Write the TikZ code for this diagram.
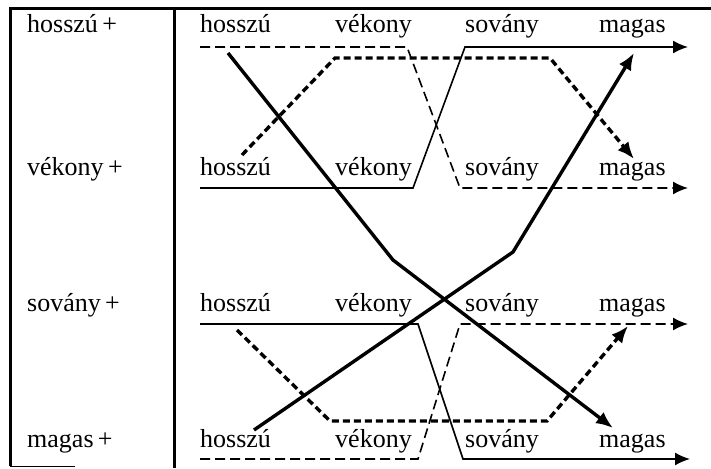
\documentclass[tikz,border=0pt]{standalone}
\usepackage{fontspec}
\setmainfont{Liberation Serif}
\usetikzlibrary{arrows.meta}

\begin{document}
\begin{tikzpicture}[x=1pt,y=-1pt,
  lbl/.style={anchor=base west,inner sep=0pt,font=\fontsize{26}{30}\selectfont},
  frame/.style={line width=3pt},
  rowline/.style={line width=1.6pt,-{Latex[length=15pt,width=13pt]}},
  rowdash/.style={rowline,dash pattern=on 10pt off 5pt},
  pathline/.style={line width=3.4pt,-{Latex[length=17pt,width=14pt]}},
  pathdash/.style={pathline,dash pattern=on 7pt off 4pt}]
  \useasboundingbox (0,0) rectangle (711,468);

  % frame
  \draw[frame] (10,466) -- (10,9) -- (711,9);
  \draw[frame] (174,9) -- (174,468);
  \draw[line width=1pt] (10,466) -- (75,466);

  % left column
  \node[lbl] (lh) at (27,33) {hosszú\,+};
  \node[lbl] (lv) at (27,175) {vékony\,+};
  \node[lbl] (ls) at (27,311) {sovány\,+};
  \node[lbl] (lm) at (27,447) {magas\,+};

  % rows of words
  \node[lbl] (h1) at (200,33) {hosszú};
  \node[lbl] (v1) at (335,33) {vékony};
  \node[lbl] (s1) at (465,33) {sovány};
  \node[lbl] (m1) at (599,33) {magas};
  \node[lbl] (h2) at (200,175) {hosszú};
  \node[lbl] (v2) at (335,175) {vékony};
  \node[lbl] (s2) at (465,175) {sovány};
  \node[lbl] (m2) at (599,175) {magas};
  \node[lbl] (h3) at (200,311) {hosszú};
  \node[lbl] (v3) at (335,311) {vékony};
  \node[lbl] (s3) at (465,311) {sovány};
  \node[lbl] (m3) at (599,311) {magas};
  \node[lbl] (h4) at (200,447) {hosszú};
  \node[lbl] (v4) at (335,447) {vékony};
  \node[lbl] (s4) at (465,447) {sovány};
  \node[lbl] (m4) at (599,447) {magas};

  % row lines
  \coordinate (a1) at (200,47);  \coordinate (b1) at (407,47);
  \coordinate (c1) at (465,47);  \coordinate (e1) at (688,47);
  \coordinate (a2) at (200,188); \coordinate (b2) at (413,188);
  \coordinate (c2) at (460,188); \coordinate (e2) at (688,188);
  \coordinate (a3) at (200,324); \coordinate (b3) at (418,324);
  \coordinate (c3) at (460,324); \coordinate (e3) at (688,324);
  \coordinate (a4) at (200,459); \coordinate (b4) at (418,459);
  \coordinate (c4) at (463,459); \coordinate (e4) at (690,459);
  \draw[rowdash] (a1) -- (b1) -- (c2) -- (e2);
  \draw[rowline] (a2) -- (b2) -- (c1) -- (e1);
  \draw[rowline] (a3) -- (b3) -- (c4) -- (e4);
  \draw[rowdash] (a4) -- (b4) -- (c3) -- (e3);

  % thick paths
  \coordinate (pa1) at (228,53);  \coordinate (pa2) at (393,260);
  \coordinate (pa3) at (613,428);
  \coordinate (pb1) at (254,430); \coordinate (pb2) at (513,252);
  \coordinate (pb3) at (634,53);
  \coordinate (pc1) at (242,155); \coordinate (pc2) at (335,58);
  \coordinate (pc3) at (550,58);  \coordinate (pc4) at (634,159);
  \coordinate (pd1) at (237,330); \coordinate (pd2) at (330,421);
  \coordinate (pd3) at (547,421); \coordinate (pd4) at (628,326);
  \draw[pathline] (pa1) -- (pa2) -- (pa3);
  \draw[pathline] (pb1) -- (pb2) -- (pb3);
  \draw[pathdash] (pc1) -- (pc2) -- (pc3) -- (pc4);
  \draw[pathdash] (pd1) -- (pd2) -- (pd3) -- (pd4);
\end{tikzpicture}
\end{document}
